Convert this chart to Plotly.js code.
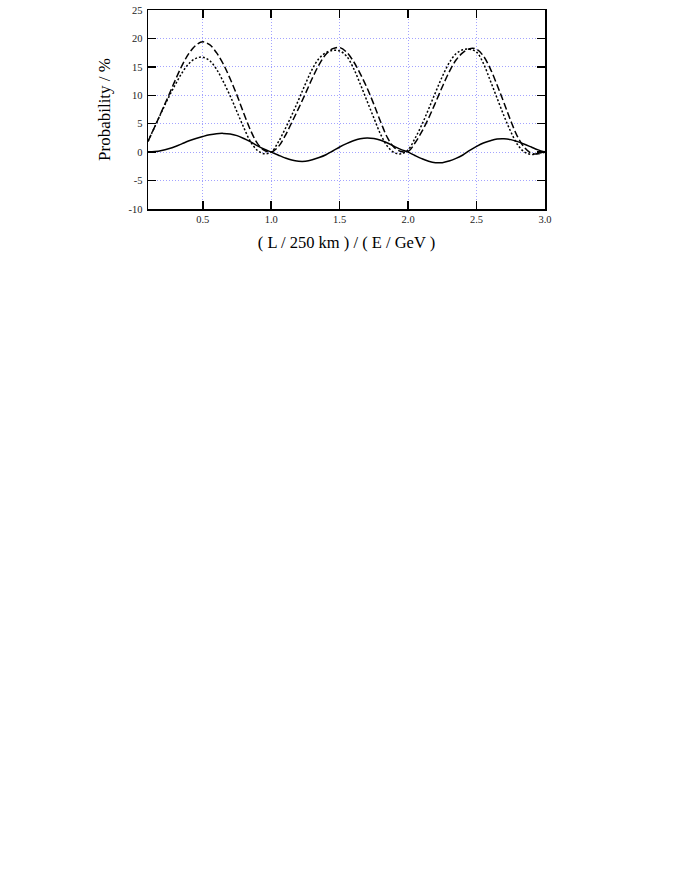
<!DOCTYPE html>
<html>
<head>
<meta charset="utf-8">
<script src="https://cdn.plot.ly/plotly-3.0.1.min.js"></script>
<style>
  html, body { margin: 0; padding: 0; background: #fff; }
  #plotDiv { width: 681px; height: 881px; }
</style>
</head>
<body>
<div id="plotDiv"></div>
<script>
// L/E values (x axis)
var xVals = [0.10, 0.15, 0.20, 0.25, 0.30, 0.35, 0.40, 0.45, 0.50, 0.55,
             0.60, 0.65, 0.70, 0.75, 0.80, 0.85, 0.90, 0.95, 1.00, 1.05,
             1.10, 1.15, 1.20, 1.25, 1.30, 1.35, 1.40, 1.45, 1.50, 1.55,
             1.60, 1.65, 1.70, 1.75, 1.80, 1.85, 1.90, 1.95, 2.00, 2.05,
             2.10, 2.15, 2.20, 2.25, 2.30, 2.35, 2.40, 2.45, 2.50, 2.55,
             2.60, 2.65, 2.70, 2.75, 2.80, 2.85, 2.90, 2.95, 3.00];

// dashed curve
var probDashed = [1.9, 4.5, 7.2, 9.9, 12.7, 15.3, 17.4, 18.8, 19.4, 18.9,
                  17.5, 15.5, 12.9, 10.0, 6.8, 3.8, 1.5, 0.3, 0.0, 0.9,
                  2.8, 5.2, 7.7, 10.3, 13.0, 15.4, 17.2, 18.2, 18.4, 17.6,
                  16.0, 13.8, 11.3, 8.4, 5.3, 2.5, 0.8, 0.1, 0.1, 1.6,
                  3.6, 6.0, 8.7, 11.5, 14.1, 16.2, 17.5, 18.2, 18.1, 16.9,
                  14.7, 11.8, 8.7, 5.5, 2.7, 0.8, -0.2, -0.3, 0.0];

// dotted curve
var probDotted = [1.9, 4.5, 7.1, 9.6, 11.9, 14.0, 15.6, 16.5, 16.7, 16.1,
                  14.6, 12.4, 9.9, 7.1, 4.3, 1.8, 0.3, -0.3, 0.0, 1.7,
                  4.0, 6.5, 9.2, 12.0, 14.6, 16.5, 17.5, 17.9, 17.8, 16.9,
                  14.8, 12.0, 9.0, 6.0, 3.1, 1.0, -0.1, -0.3, 0.4, 2.4,
                  4.8, 7.6, 10.5, 13.3, 15.7, 17.3, 18.0, 18.1, 17.6, 15.6,
                  12.6, 9.5, 6.4, 3.6, 1.3, 0.0, -0.4, -0.2, 0.1];

// solid curve (difference)
var probSolid = [0.0, 0.1, 0.3, 0.6, 1.0, 1.5, 2.0, 2.4, 2.75, 3.05,
                 3.25, 3.3, 3.2, 2.9, 2.4, 1.8, 1.1, 0.5, 0.0, -0.5,
                 -1.0, -1.4, -1.6, -1.6, -1.35, -0.95, -0.45, 0.2, 0.9, 1.5,
                 2.0, 2.35, 2.5, 2.4, 2.1, 1.6, 1.0, 0.45, 0.0, -0.6,
                 -1.15, -1.6, -1.85, -1.85, -1.55, -1.1, -0.5, 0.3, 1.0, 1.6,
                 2.0, 2.3, 2.35, 2.2, 1.85, 1.4, 0.9, 0.4, 0.0];

var xTicks = [0.5, 1.0, 1.5, 2.0, 2.5, 3.0];
var xTickText = ['0.5', '1.0', '1.5', '2.0', '2.5', '3.0'];
var yTicks = [-10, -5, 0, 5, 10, 15, 20, 25];
var yTickText = ['-10', '-5', '0', '5', '10', '15', '20', '25'];

var serif = '"Liberation Serif", "DejaVu Serif", serif';

var trace1 = {
  x: xVals,
  y: probDashed,
  mode: 'lines',
  type: 'scatter',
  line: { color: '#000', width: 1.5, dash: '7px,3px', shape: 'spline', smoothing: 1 }
};

var trace2 = {
  x: xVals,
  y: probDotted,
  mode: 'lines',
  type: 'scatter',
  line: { color: '#000', width: 1.5, dash: '2px,2px', shape: 'spline', smoothing: 1 }
};

var trace3 = {
  x: xVals,
  y: probSolid,
  mode: 'lines',
  type: 'scatter',
  line: { color: '#000', width: 1.5, shape: 'spline', smoothing: 1 }
};

var data = [trace1, trace2, trace3];

var layout = {
  width: 681,
  height: 881,
  showlegend: false,
  paper_bgcolor: '#fff',
  plot_bgcolor: '#fff',
  font: { family: serif, size: 10, color: '#000' },
  margin: { l: 148, r: 136, t: 10, b: 672, pad: 0 },
  xaxis: {
    range: [0.1, 3.0],
    tickvals: xTicks,
    ticktext: xTickText,
    ticks: 'inside',
    ticklen: 8,
    tickwidth: 1.5,
    tickcolor: '#000',
    showline: true,
    linecolor: '#000',
    linewidth: 1.5,
    mirror: 'ticks',
    showgrid: true,
    gridcolor: '#a3a3ff',
    griddash: '1px,2px',
    gridwidth: 1,
    zeroline: false,
    tickfont: { family: serif, size: 10.5, color: '#222' },
    title: { text: '( L / 250 km ) / ( E / GeV )', font: { family: serif, size: 16.5 }, standoff: 12 }
  },
  yaxis: {
    range: [-10, 25],
    tickvals: yTicks,
    ticktext: yTickText,
    ticks: 'inside',
    ticklen: 8,
    tickwidth: 1.5,
    tickcolor: '#000',
    showline: true,
    linecolor: '#000',
    linewidth: 1.5,
    mirror: 'ticks',
    showgrid: true,
    gridcolor: '#a3a3ff',
    griddash: '1px,2px',
    gridwidth: 1,
    zeroline: false,
    ticklabelstandoff: 2,
    tickfont: { family: serif, size: 10.5, color: '#222' },
    title: { text: 'Probability / %', font: { family: serif, size: 17 }, standoff: 13 }
  }
};

Plotly.newPlot('plotDiv', data, layout, { displayModeBar: false, staticPlot: true });
</script>
</body>
</html>
